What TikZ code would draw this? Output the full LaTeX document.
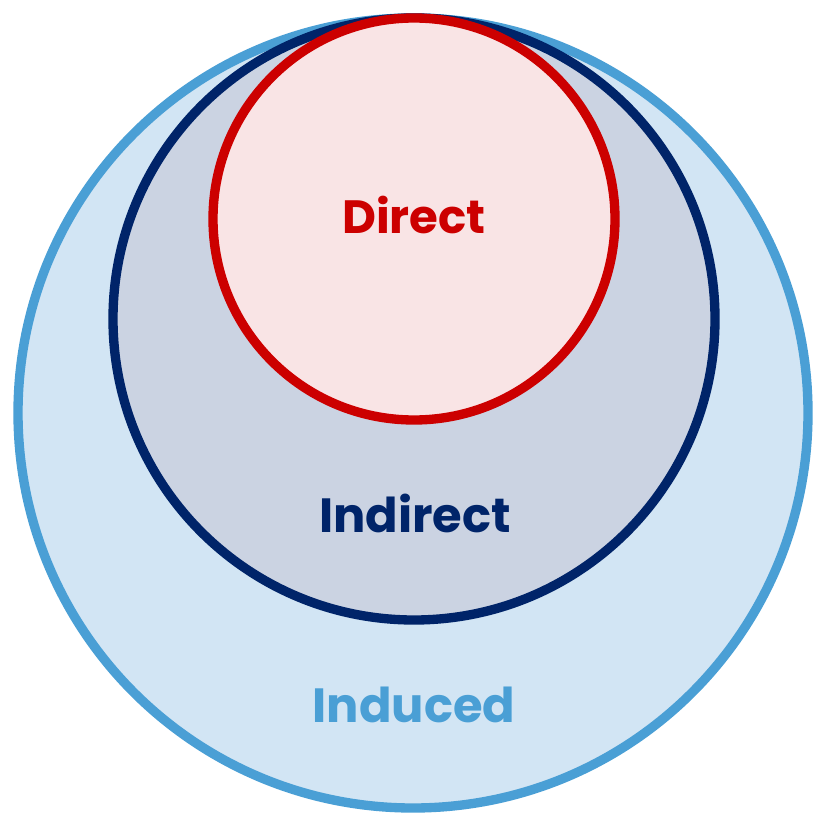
\documentclass[tikz,border=0pt]{standalone}
\usepackage{fontspec}
\setmainfont{Poppins}
\usepackage{tikz}

\definecolor{inducedblue}{HTML}{4A9FD5}
\definecolor{inducedfill}{HTML}{D2E5F4}
\definecolor{indirectnavy}{HTML}{002469}
\definecolor{indirectfill}{HTML}{CBD3E2}
\definecolor{directred}{HTML}{CC0000}
\definecolor{directfill}{HTML}{F9E4E5}

\begin{document}
\begin{tikzpicture}[x=0.75pt,y=-0.75pt,line width=7pt,
        label/.style={anchor=base,font=\bfseries\fontsize{36}{42}\selectfont}]
        \useasboundingbox (0,0) rectangle (813,813);

        \filldraw[draw=inducedblue, fill=inducedfill] (413,413) circle (395);
        \filldraw[draw=indirectnavy, fill=indirectfill] (414,319) circle (301);
        \filldraw[draw=directred, fill=directfill] (414,219) circle (201);

        \node[label, text=directred, font=\bfseries\fontsize{35}{42}\selectfont] (direct) at (414,233) {Direct};
        \node[label, text=indirectnavy] (indirect) at (415,532) {Indirect};
        \node[label, text=inducedblue] (induced) at (414,722) {Induced};
    \end{tikzpicture}
\end{document}
